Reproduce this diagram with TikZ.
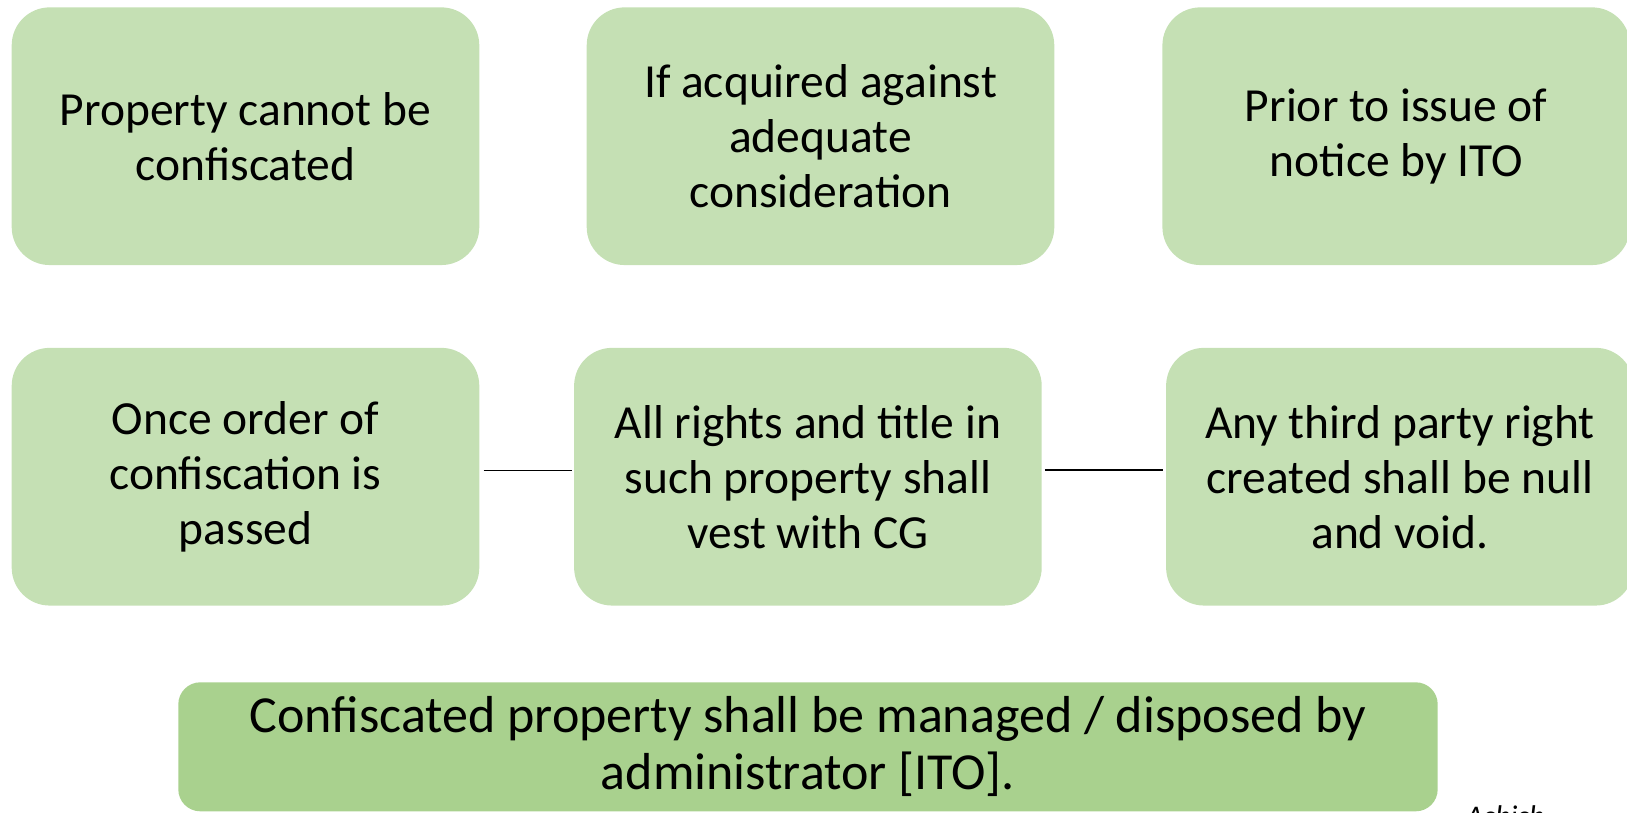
\documentclass[tikz,border=0pt]{standalone}
\usepackage{fontspec}
\setmainfont{Carlito}
\definecolor{lightleaf}{HTML}{C5E0B4}
\definecolor{midleaf}{HTML}{A9D18E}
\begin{document}
\begin{tikzpicture}[x=1pt,y=-1pt,
  card/.style={fill=lightleaf, draw=none, rounded corners=38pt,
    minimum width=467.6pt, minimum height=257.7pt, inner sep=0pt,
    align=center, font=\fontsize{47.5}{55}\selectfont},
  banner/.style={fill=midleaf, draw=none, rounded corners=22pt,
    minimum width=1259.4pt, minimum height=129pt, inner sep=0pt,
    align=center, font=\fontsize{52}{57}\selectfont},
  link/.style={draw=black, line width=#1},
]
\useasboundingbox (0,0) rectangle (1627,812);
\begin{scope}
\clip (0,0) rectangle (1627,812);
% top row
\node[card] (b1) at (245.5,136.2) {Property cannot be\\confiscated};
\node[card] (b2) at (820.5,136.2) {If acquired against\\adequate\\consideration};
\node[card] (b3) at (1396.2,136.2) {Prior to issue of\\notice by ITO};
% middle row
\node[card] (b4) at (245.5,476.7) {Once order of\\confiscation is\\passed};
\node[card] (b5) at (807.9,476.7) {All rights and title in\\such property shall\\vest with CG};
\node[card] (b6) at (1399.9,476.7) {Any third party right\\created shall be null\\and void.};
% closing banner
\node[banner] (b7) at (808,746.8) {Confiscated property shall be managed / disposed by\\administrator [ITO].};
% connectors between the middle cards
\draw[link=1.4pt] ([xshift=4pt,yshift=6pt]b4.east) -- ([xshift=-2pt,yshift=6pt]b5.west);
\draw[link=2.4pt] ([xshift=3pt,yshift=6.5pt]b5.east) -- ([xshift=-3pt,yshift=6.5pt]b6.west);
% signature at the lower edge
\node[anchor=base west, inner sep=0pt, font=\fontsize{30}{36}\selectfont\itshape] (sig) at (1466,826) {Ashish};
\end{scope}
\end{tikzpicture}
\end{document}
